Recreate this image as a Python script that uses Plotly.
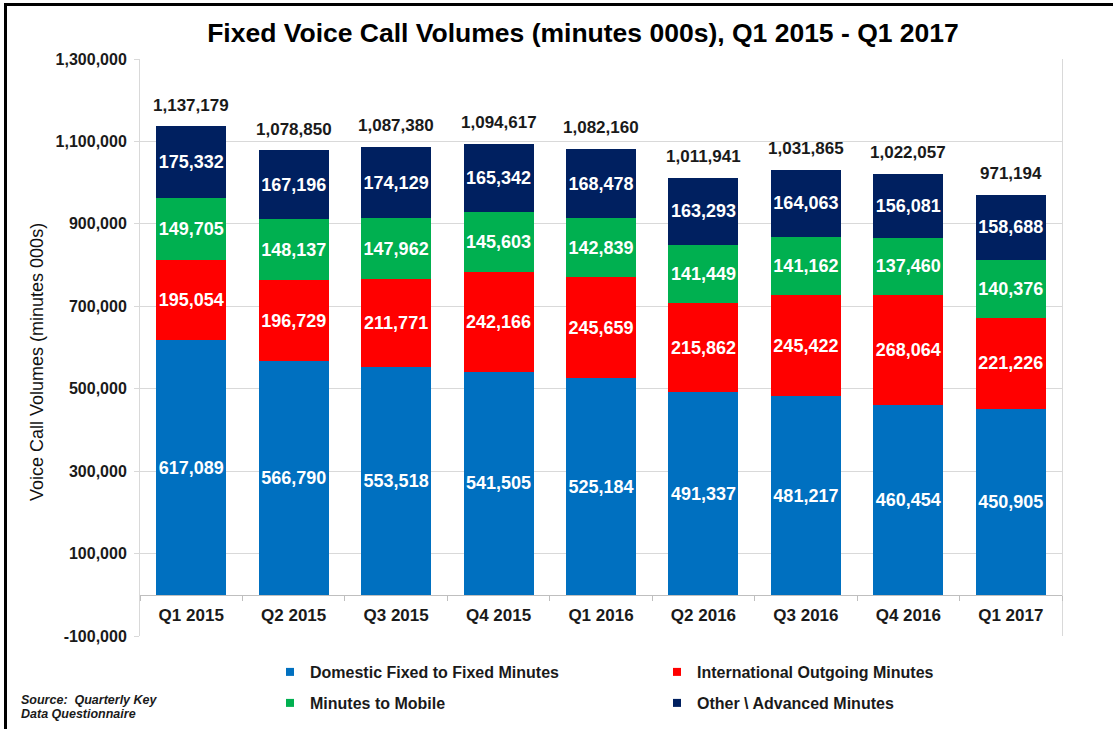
import plotly.graph_objects as go

quarters = ["Q1 2015", "Q2 2015", "Q3 2015", "Q4 2015", "Q1 2016",
            "Q2 2016", "Q3 2016", "Q4 2016", "Q1 2017"]
domestic = [617089, 566790, 553518, 541505, 525184, 491337, 481217, 460454, 450905]
international = [195054, 196729, 211771, 242166, 245659, 215862, 245422, 268064, 221226]
mobile = [149705, 148137, 147962, 145603, 142839, 141449, 141162, 137460, 140376]
other = [175332, 167196, 174129, 165342, 168478, 163293, 164063, 156081, 158688]
totals = [1137179, 1078850, 1087380, 1094617, 1082160, 1011941, 1031865, 1022057, 971194]

series_names = ["Domestic Fixed to Fixed Minutes", "International Outgoing Minutes",
                "Minutes to Mobile", "Other \\ Advanced Minutes"]
series_values = [domestic, international, mobile, other]
series_colors = ["#0070C0", "#FF0000", "#00B050", "#002060"]
legend_ids = ["legend", "legend", "legend2", "legend2"]

y_tickvals = [-100000, 100000, 300000, 500000, 700000, 900000, 1100000, 1300000]
y_ticktext = ["-100,000", "100,000", "300,000", "500,000", "700,000", "900,000",
              "1,100,000", "1,300,000"]

FONT = "Arial, Liberation Sans, sans-serif"
TXT = "#1a1a1a"
GRID = "#D9D9D9"

W, H = 1113, 729
ML, MR, MT, MB = 140, 51, 59, 93
PW, PH = W - ML - MR, H - MT - MB


def px_x(px):
    return (px - ML) / PW


def px_y(py):
    return (H - MB - py) / PH


fig = go.Figure()

for name, vals, col in zip(series_names, series_values, series_colors):
    fig.add_trace(go.Bar(
        x=quarters, y=vals, name=name, marker=dict(color=col, line=dict(width=0)),
        text=[f"{v:,}" for v in vals], texttemplate="%{text}",
        textposition="inside", insidetextanchor="middle", textangle=0,
        constraintext="none",
        insidetextfont=dict(family=FONT, size=18, color="white", weight="bold"),
        showlegend=False, hoverinfo="skip",
    ))

# legend entries (small square markers)
for name, col, lg in zip(series_names, series_colors, legend_ids):
    fig.add_trace(go.Scatter(
        x=[None], y=[None], mode="markers", name=name, legend=lg,
        marker=dict(symbol="square", size=8, color=col), showlegend=True,
    ))

annotations = []
for q, t in zip(quarters, totals):
    annotations.append(dict(
        x=q, y=t, xref="x", yref="y", text=f"{t:,}", showarrow=False,
        yanchor="middle", yshift=21,
        font=dict(family=FONT, size=17, color=TXT, weight="bold"),
    ))

annotations.append(dict(
    x=px_x(37), y=px_y(362), xref="paper", yref="paper",
    text="Voice Call Volumes (minutes 000s)", textangle=-90, showarrow=False,
    xanchor="center", yanchor="middle",
    font=dict(family=FONT, size=18, color="#111111"),
))
annotations.append(dict(
    x=px_x(19), y=px_y(700), xref="paper", yref="paper",
    text="Source:\u00a0\u00a0Quarterly Key", showarrow=False,
    xanchor="left", yanchor="middle",
    font=dict(family=FONT, size=12.5, color=TXT, weight="bold", style="italic"),
))
annotations.append(dict(
    x=px_x(19), y=px_y(714), xref="paper", yref="paper",
    text="Data Questionnaire", showarrow=False,
    xanchor="left", yanchor="middle",
    font=dict(family=FONT, size=12.5, color=TXT, weight="bold", style="italic"),
))

shapes = [
    dict(type="line", xref="paper", yref="paper",
         x0=px_x(5.5), x1=px_x(W + 5), y0=px_y(4.5), y1=px_y(4.5),
         line=dict(color="black", width=3)),
    dict(type="line", xref="paper", yref="paper",
         x0=px_x(5.5), x1=px_x(5.5), y0=px_y(3), y1=px_y(H + 5),
         line=dict(color="black", width=3)),
]

legend_common = dict(
    orientation="h", entrywidth=342, entrywidthmode="pixels", traceorder="normal",
    xanchor="left", yanchor="middle", bgcolor="rgba(0,0,0,0)",
    font=dict(family=FONT, size=16, color=TXT, weight="bold"),
    itemclick=False, itemdoubleclick=False,
)

fig.update_layout(
    width=W, height=H,
    margin=dict(l=ML, r=MR, t=MT, b=MB, autoexpand=False),
    paper_bgcolor="white", plot_bgcolor="white",
    barmode="stack", bargap=0.316,
    font=dict(family=FONT, color=TXT),
    title=dict(
        text="Fixed Voice Call Volumes (minutes 000s), Q1 2015 - Q1 2017",
        x=583 / W, xanchor="center", xref="container",
        y=1 - 33 / H, yanchor="middle", yref="container",
        font=dict(family=FONT, size=26.5, color="black", weight="bold"),
    ),
    xaxis=dict(
        type="category", anchor="free", position=100000 / 1400000,
        showline=True, linecolor="#BFBFBF", linewidth=1,
        ticks="outside", tickson="boundaries", ticklen=5, tickcolor="#BFBFBF",
        ticklabelstandoff=5,
        showgrid=False, zeroline=False,
        tickfont=dict(family=FONT, size=17, color=TXT, weight="bold"),
    ),
    yaxis=dict(
        range=[-100000, 1300000], tickvals=y_tickvals, ticktext=y_ticktext,
        showgrid=True, gridcolor=GRID, gridwidth=1,
        showline=True, mirror=True, linecolor=GRID, linewidth=1,
        ticks="outside", ticklen=5, tickcolor=GRID, ticklabelstandoff=4,
        zeroline=False,
        tickfont=dict(family=FONT, size=16, color=TXT, weight="bold"),
    ),
    legend=dict(x=px_x(270), y=px_y(672), **legend_common),
    legend2=dict(x=px_x(270), y=px_y(703), **legend_common),
    annotations=annotations,
    shapes=shapes,
)

fig.write_html("out.html", config={"displayModeBar": False},
               post_script="document.body.style.margin='0px';")
